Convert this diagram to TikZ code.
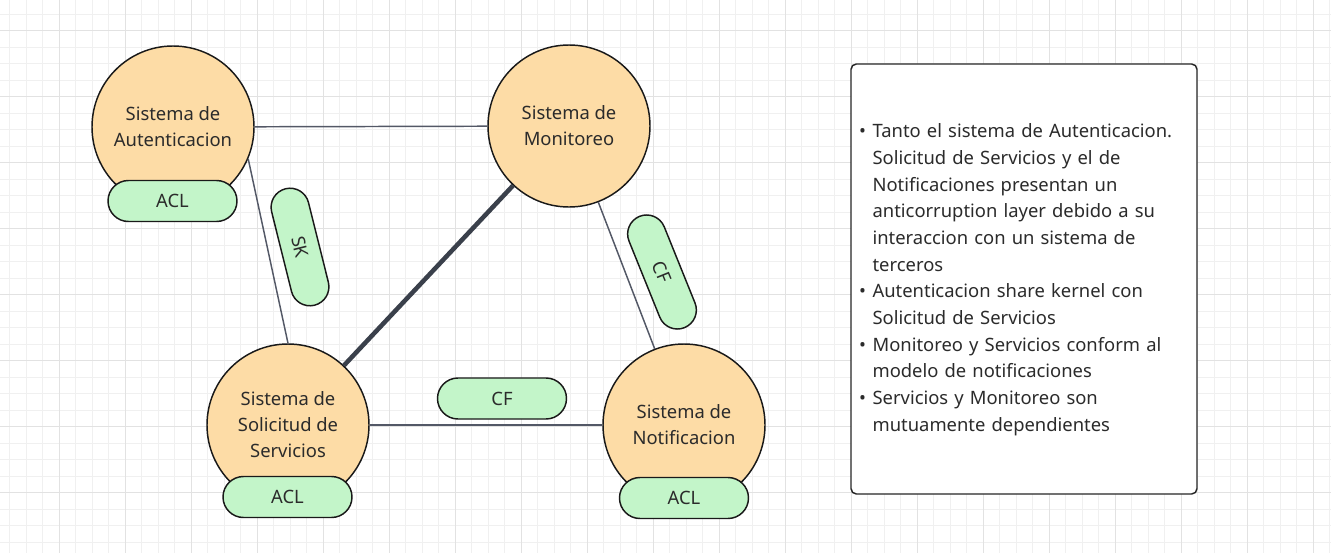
\documentclass[tikz,border=0pt]{standalone}
\usepackage{fontspec}
\setmainfont{Noto Sans}
\usetikzlibrary{shapes.misc}
\definecolor{peach}{HTML}{FDDCA6}
\definecolor{mint}{HTML}{C3F5C9}
\definecolor{ink}{HTML}{2B2B2B}
\definecolor{wire}{HTML}{535866}
\definecolor{wirebold}{HTML}{3A404B}
\definecolor{gridminor}{HTML}{F0F0F0}
\definecolor{gridmajor}{HTML}{E2E2E2}
\tikzstyle{system}=[circle,draw=black!90,line width=1.1pt,fill=peach,minimum size=121.5pt,inner sep=0pt,align=center,text=ink,font=\fontsize{13.8}{19.5}\selectfont]
\tikzstyle{relpill}=[rounded rectangle,draw=black!90,line width=1.1pt,fill=mint,minimum width=96.75pt,minimum height=30.75pt,inner sep=0pt,text=ink,font=\fontsize{13.8}{16}\selectfont]
\tikzstyle{tiltpill}=[relpill,minimum width=90pt,minimum height=28.5pt]
\tikzstyle{relline}=[wire,line width=1.1pt]
\tikzstyle{sharedline}=[wirebold,line width=3.4pt]
\tikzstyle{notes}=[rectangle,draw=black!85,line width=1.1pt,rounded corners=4pt,fill=white,minimum height=322.5pt,text width=247.5pt,inner xsep=6pt,align=left,text=ink,font=\fontsize{13.8}{20}\selectfont]

\begin{document}
\begin{tikzpicture}[x=0.75pt,y=-0.75pt]
\useasboundingbox (0,0) rectangle (1331,553);
% grid
\foreach \i in {0,...,80} \draw[gridminor,line width=0.8pt] ({9.8+16.5*\i},0) -- ({9.8+16.5*\i},553);
\foreach \j in {0,...,32} \draw[gridminor,line width=0.8pt] (0,{14.2+16.5*\j}) -- (1331,{14.2+16.5*\j});
\foreach \i in {0,...,19} \draw[gridmajor,line width=0.8pt] ({59.3+66*\i},0) -- ({59.3+66*\i},553);
\foreach \j in {0,...,7} \draw[gridmajor,line width=0.8pt] (0,{30.7+66*\j}) -- (1331,{30.7+66*\j});

% systems
\node[system] at (173, 127) (auth) {Sistema de\\Autenticacion};
\node[system] at (569, 126) (mon) {Sistema de\\Monitoreo};
\node[system] at (288, 425) (sol) {Sistema de\\Solicitud de\\Servicios};
\node[system] at (684, 425) (notif) {Sistema de\\Notificacion};

% relations
\draw[relline] (auth) -- (mon);
\draw[relline] (auth.-23) -- (sol.north);
\draw[relline] (mon) -- (notif);
\draw[relline] (sol) -- (notif);
\draw[sharedline] (mon) -- (sol);

% patterns
\node[relpill] at (172.5, 201) (authacl) {ACL};
\node[relpill] at (287.5, 497) (solacl) {ACL};
\node[relpill] at (684, 498) (notifacl) {ACL};
\node[relpill] at (502, 398.5) (solcf) {CF};
\node[tiltpill, rotate=-76] at (300, 247) (sk) {SK};
\node[tiltpill, rotate=-68] at (662, 272) (moncf) {CF};

% notes
\node[notes] at (1024, 279) (summary) {%
\begin{tabular}{@{}l@{\hspace{5pt}}l@{}}
\textbullet & Tanto el sistema de Autenticacion.\\
 & Solicitud de Servicios y el de\\
 & Notificaciones presentan un\\
 & anticorruption layer debido a su\\
 & interaccion con un sistema de\\
 & terceros\\
\textbullet & Autenticacion share kernel con\\
 & Solicitud de Servicios\\
\textbullet & Monitoreo y Servicios conform al\\
 & modelo de notificaciones\\
\textbullet & Servicios y Monitoreo son\\
 & mutuamente dependientes
\end{tabular}};
\end{tikzpicture}
\end{document}
